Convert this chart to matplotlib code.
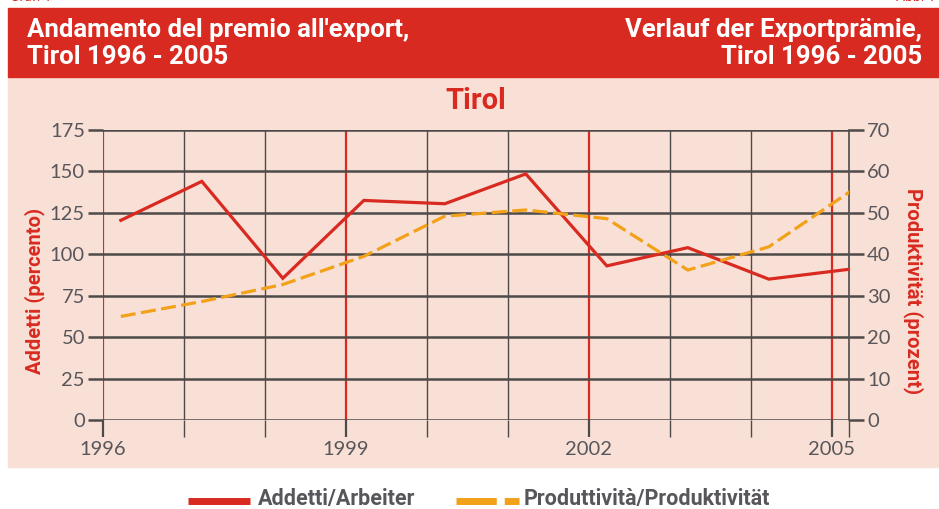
import matplotlib.pyplot as plt
from matplotlib.patches import Rectangle
from matplotlib.lines import Line2D

# dati
anni = [1996, 1997, 1998, 1999, 2000, 2001, 2002, 2003, 2004, 2005]
addetti = [120.5, 144, 85.5, 132.5, 130.5, 148.5, 93, 104, 85, 91]          # asse sinistro
produttivita = [25, 28.6, 32.7, 39.5, 49.2, 50.7, 48.6, 36.2, 41.8, 55.1]  # asse destro
anni_rossi = [1996, 1999, 2002, 2005]

ROSSO = '#d82a20'
ARANCIO = '#f2a118'
GRIGIO = '#4d4a48'
ROSA = '#f9e0d6'
TESTO = '#58565a'

cond = ['Liberation Sans Narrow', 'Roboto', 'DejaVu Sans']
light = ['Lato', 'Open Sans', 'DejaVu Sans']

W, H = 939, 509
fig = plt.figure(figsize=(W / 100, H / 100), dpi=100)

def fx(px):
    return px / W

def fy(py):
    return 1 - py / H

# fasce di sfondo
fig.add_artist(Rectangle((fx(8), fy(467)), fx(931), (467 - 77) / H, transform=fig.transFigure,
                         color=ROSA, zorder=0))
fig.add_artist(Rectangle((fx(8), fy(77)), fx(931), (77 - 8) / H, transform=fig.transFigure,
                         color=ROSSO, zorder=0))

fig.text(fx(10), fy(4), 'Graf. 1', color=ROSSO, fontsize=10, family=cond, va='bottom')
fig.text(fx(936), fy(4), 'Abb. 1', color=ROSSO, fontsize=10, family=cond, va='bottom', ha='right')

fig.text(fx(27), fy(30), "Andamento del premio all'export,", color='white', fontsize=18.5,
         fontweight='bold', family=cond, va='center')
fig.text(fx(27), fy(57), 'Tirol 1996 - 2005', color='white', fontsize=18.5,
         fontweight='bold', family=cond, va='center')
fig.text(fx(922), fy(30), 'Verlauf der Exportprämie,', color='white', fontsize=18.5,
         fontweight='bold', family=cond, va='center', ha='right')
fig.text(fx(922), fy(57), 'Tirol 1996 - 2005', color='white', fontsize=18.5,
         fontweight='bold', family=cond, va='center', ha='right')
fig.text(fx(476), fy(101), 'Tirol', color=ROSSO, fontsize=21, fontweight='bold',
         family=cond, va='center', ha='center')

ax = fig.add_axes([fx(103), fy(420), fx(849 - 103), (420 - 130) / H])
ax.patch.set_alpha(0)
xmax = 2005.21
ax.set_xlim(1996, xmax)
ax.set_ylim(0, 175)

for a in anni:
    if a in anni_rossi:
        ax.axvline(a, color=ROSSO, lw=1.6, zorder=1)
    else:
        ax.axvline(a, color=GRIGIO, lw=1.0, zorder=1)
ax.axvline(xmax, color=GRIGIO, lw=1.2, zorder=1, clip_on=False)

ax.set_yticks(range(0, 176, 25))
ax.yaxis.grid(True, color=GRIGIO, lw=1.8, zorder=2)
ax.set_axisbelow(False)
for s in ax.spines.values():
    s.set_visible(False)

xt = anni + [xmax]
ax.set_xticks(xt)
ax.set_xticklabels([str(a) if a in anni_rossi else '' for a in anni] + [''])
ax.tick_params(axis='x', length=12, width=1.0, color=GRIGIO, pad=3,
               labelsize=14.5, labelcolor=TESTO)
for t, a in zip(ax.xaxis.get_major_ticks(), xt):
    if a in anni_rossi:
        t.tick1line.set_color(ROSSO)
        t.tick1line.set_markeredgewidth(1.6)
ax.tick_params(axis='y', length=11, width=1.8, color=GRIGIO, pad=2,
               labelsize=14.5, labelcolor=TESTO)
for lab in ax.get_xticklabels() + ax.get_yticklabels():
    lab.set_family(light)

xs = [a + 0.22 for a in anni]
ax.plot(xs, addetti, color=ROSSO, lw=2.3, zorder=5, solid_joinstyle='miter')

ax2 = ax.twinx()
ax2.set_ylim(0, 70)
ax2.set_yticks(range(0, 71, 10))
for s in ax2.spines.values():
    s.set_visible(False)
ax2.tick_params(axis='y', length=11, width=1.8, color=GRIGIO, pad=2,
                labelsize=14.5, labelcolor=TESTO)
for lab in ax2.get_yticklabels():
    lab.set_family(light)
ax2.plot(xs, produttivita, color=ARANCIO, lw=2.3, zorder=5, dashes=(4.7, 1.7))

fig.text(fx(35), fy(291), 'Addetti (percento)', color=ROSSO, fontsize=14.5, fontweight='bold',
         family=cond, rotation=90, va='center', ha='center')
fig.text(fx(913), fy(291), 'Produktivität (prozent)', color=ROSSO, fontsize=14.5,
         fontweight='bold', family=cond, rotation=270, va='center', ha='center')

# legenda
fig.add_artist(Line2D([fx(188), fx(250)], [fy(501), fy(501)], transform=fig.transFigure,
                      color=ROSSO, lw=5, solid_capstyle='butt'))
fig.text(fx(258), fy(499), 'Addetti/Arbeiter', color=TESTO, fontsize=15.5, fontweight='bold',
         family=cond, va='center')
fig.add_artist(Line2D([fx(456), fx(519)], [fy(501), fy(501)], transform=fig.transFigure,
                      color=ARANCIO, lw=5, dashes=(5.8, 1.15), dash_capstyle='butt'))
fig.text(fx(524), fy(499), 'Produttività/Produktivität', color=TESTO, fontsize=15.5,
         fontweight='bold', family=cond, va='center')

fig.savefig('out.png', dpi=100)
